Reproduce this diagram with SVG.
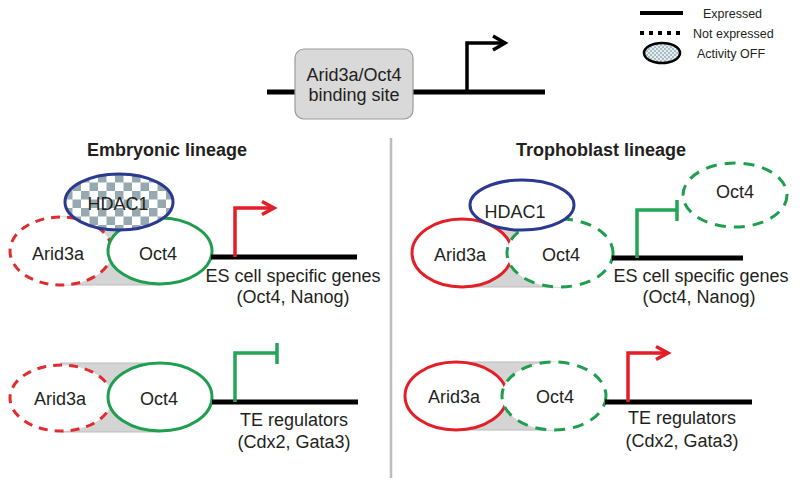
<svg xmlns="http://www.w3.org/2000/svg" width="800" height="486" viewBox="0 0 800 486">
<defs>
<style>
text{font-family:"Liberation Sans",Arial,sans-serif;fill:#231f20}
.lbl{font-size:18px;text-anchor:middle}
.ttl{font-size:18px;font-weight:bold;text-anchor:middle}
.leg{font-size:12.5px}
.gene{stroke:#000;stroke-width:5;fill:none}
.band{fill:#d4d4d4;stroke:#bdbdbd;stroke-width:1}
.red{stroke:#e41e26;stroke-width:3;fill:#fff}
.redd{stroke:#e02b2f;stroke-width:3;fill:#fff;stroke-dasharray:9 7}
.grn{stroke:#1f9e4f;stroke-width:3;fill:#fff}
.grnd{stroke:#1f9e4f;stroke-width:3;fill:#fff;stroke-dasharray:11 8}
.blu{stroke:#2b3990;stroke-width:3;fill:#fff}
.rarr{stroke:#e41e26;stroke-width:3.5;fill:none}
.garr{stroke:#22a554;stroke-width:3.5;fill:none}
.karr{stroke:#000;stroke-width:3.5;fill:none}
</style>
<pattern id="chk" patternUnits="userSpaceOnUse" x="64" y="174" width="17" height="17">
<rect width="17" height="17" fill="#fff"/>
<rect width="8.5" height="8.5" fill="#97a9b0"/>
<rect x="8.5" y="8.5" width="8.5" height="8.5" fill="#97a9b0"/>
</pattern>
<pattern id="chks" patternUnits="userSpaceOnUse" width="4" height="4">
<rect width="4" height="4" fill="#e4eef0"/>
<rect width="2" height="2" fill="#a9bcc2"/>
<rect x="2" y="2" width="2" height="2" fill="#a9bcc2"/>
</pattern>
<marker id="ak" markerUnits="userSpaceOnUse" orient="auto" refX="0" refY="0" overflow="visible">
<path d="M-12,-7 L0,0 L-12,7" fill="none" stroke="#000" stroke-width="3.5"/>
</marker>
<marker id="ar" markerUnits="userSpaceOnUse" orient="auto" refX="0" refY="0" overflow="visible">
<path d="M-12,-6.5 L0,0 L-12,6.5" fill="none" stroke="#e41e26" stroke-width="3.5"/>
</marker>
</defs>
<rect width="800" height="486" fill="#fff"/>

<g id="legend">
<line x1="640" y1="13" x2="683" y2="13" stroke="#000" stroke-width="4"/>
<text class="leg" x="703" y="17.5">Expressed</text>
<line x1="640" y1="33" x2="683" y2="33" stroke="#000" stroke-width="4" stroke-dasharray="4 5"/>
<text class="leg" x="693" y="37.5">Not expressed</text>
<ellipse cx="662" cy="53" rx="18" ry="10" fill="url(#chks)" stroke="#000" stroke-width="2.5"/>
<text class="leg" x="697" y="57.5">Activity OFF</text>
</g>

<g id="top-gene">
<line class="gene" x1="267" y1="92" x2="545" y2="92" stroke-width="4.5"/>
<rect x="295" y="49" width="118" height="70" rx="9" fill="#d9d9d9" stroke="#9a9a9a" stroke-width="1.2"/>
<text class="lbl" x="354" y="81">Arid3a/Oct4</text>
<text class="lbl" x="354" y="101">binding site</text>
</g>

<line id="divider" x1="391" y1="138" x2="391" y2="478" stroke="#bdbdbd" stroke-width="2.5"/>

<g id="titles">
<text class="ttl" x="167" y="156">Embryonic lineage</text>
<text class="ttl" x="601" y="156">Trophoblast lineage</text>
</g>

<g id="emb-es">
<rect class="band" x="61" y="217" width="98" height="68"/>
<ellipse id="emb-es-arid3a" class="redd" cx="61" cy="251" rx="51" ry="34"/>
<ellipse id="emb-es-oct4" class="grn" cx="160" cy="251" rx="52" ry="33"/>
<ellipse id="emb-es-hdac1" cx="119" cy="202" rx="54" ry="28" fill="url(#chk)" stroke="#2b3990" stroke-width="3"/>
<text class="lbl" x="118" y="210">HDAC1</text>
<text class="lbl" x="58" y="260">Arid3a</text>
<text class="lbl" x="158" y="260">Oct4</text>
<line class="gene" x1="211" y1="257" x2="357" y2="257"/>
<text class="lbl" x="293" y="282">ES cell specific genes</text>
<text class="lbl" x="293" y="303">(Oct4, Nanog)</text>
</g>

<g id="tro-es">
<rect class="band" x="462" y="220" width="98" height="67"/>
<ellipse id="tro-es-arid3a" class="red" cx="462" cy="253" rx="50" ry="34"/>
<ellipse id="tro-es-oct4" class="grnd" cx="560" cy="253" rx="53" ry="34"/>
<ellipse id="tro-es-hdac1" class="blu" cx="522" cy="205" rx="52" ry="25"/>
<text class="lbl" x="515" y="218">HDAC1</text>
<text class="lbl" x="460" y="261">Arid3a</text>
<text class="lbl" x="561" y="261">Oct4</text>
<ellipse id="tro-es-oct4-free" class="grnd" cx="735" cy="195" rx="52" ry="32"/>
<text class="lbl" x="735" y="198">Oct4</text>
<line class="gene" x1="612" y1="258" x2="743" y2="258"/>
<text class="lbl" x="701" y="282">ES cell specific genes</text>
<text class="lbl" x="699" y="303">(Oct4, Nanog)</text>
</g>

<g id="emb-te">
<rect class="band" x="61" y="363" width="98" height="69"/>
<ellipse id="emb-te-arid3a" class="redd" cx="61" cy="398" rx="51" ry="33"/>
<ellipse id="emb-te-oct4" class="grn" cx="160" cy="397" rx="52" ry="34"/>
<text class="lbl" x="60" y="405">Arid3a</text>
<text class="lbl" x="159" y="405">Oct4</text>
<line class="gene" x1="212" y1="402" x2="358" y2="402"/>
<text class="lbl" x="294" y="426">TE regulators</text>
<text class="lbl" x="294" y="448">(Cdx2, Gata3)</text>
</g>

<g id="tro-te">
<rect class="band" x="457" y="362" width="97" height="68"/>
<ellipse id="tro-te-arid3a" class="red" cx="456" cy="396" rx="51" ry="34"/>
<ellipse id="tro-te-oct4" class="grnd" cx="554" cy="396" rx="52" ry="34"/>
<text class="lbl" x="454" y="403">Arid3a</text>
<text class="lbl" x="555" y="403">Oct4</text>
<line class="gene" x1="605" y1="402" x2="752" y2="402"/>
<text class="lbl" x="682" y="424">TE regulators</text>
<text class="lbl" x="682" y="447">(Cdx2, Gata3)</text>
</g>

<g id="connectors">
<polyline class="karr" points="467,92 467,43 505,43" marker-end="url(#ak)"/>
<polyline class="rarr" points="235,257 235,208 274,208" marker-end="url(#ar)"/>
<polyline class="garr" points="637,258 637,210 677,210"/>
<line class="garr" x1="677" y1="200" x2="677" y2="221"/>
<polyline class="garr" points="235,402 235,353 277,353"/>
<line class="garr" x1="277" y1="343" x2="277" y2="364"/>
<polyline class="rarr" points="628,402 628,353 668,353" marker-end="url(#ar)"/>
</g>
</svg>
